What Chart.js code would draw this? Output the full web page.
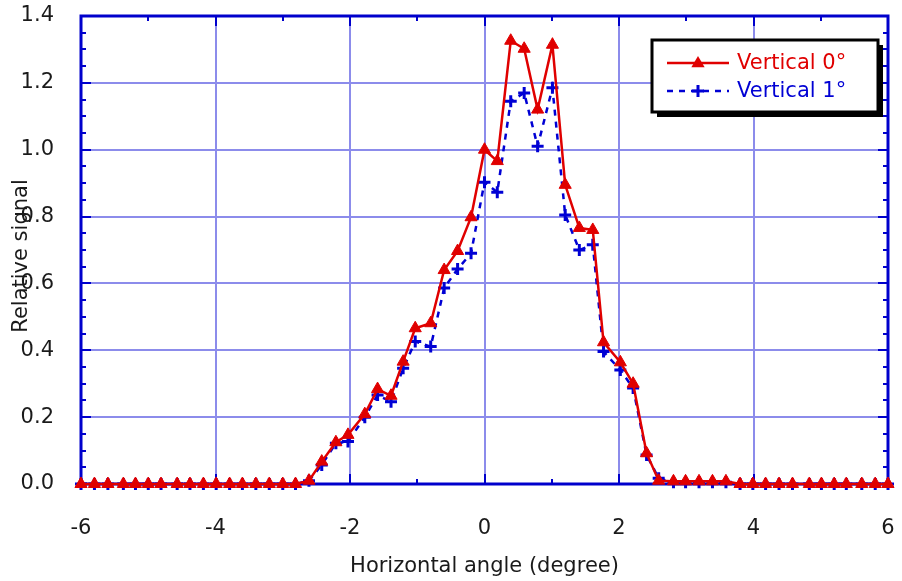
<!DOCTYPE html>
<html>
<head>
<meta charset="utf-8">
<script src="https://cdn.jsdelivr.net/npm/chart.js@4/dist/chart.umd.min.js"></script>
<style>
html,body{margin:0;padding:0;background:#fff;}
#wrap{width:902px;height:581px;}
</style>
</head>
<body>
<div id="wrap"><canvas id="c" width="902" height="581"></canvas></div>
<script>
// ---- data ----
const angles = [-6.0,-5.8,-5.6,-5.37,-5.19,-5.0,-4.81,-4.57,-4.38,-4.18,-3.99,-3.79,-3.6,-3.4,-3.2,-3.0,-2.81,-2.61,
  -2.42,-2.21,-2.03,-1.78,-1.59,-1.39,-1.21,-1.03,-0.8,-0.6,-0.4,-0.2,0.0,0.19,0.39,0.59,0.79,1.01,1.2,1.41,1.61,1.77,2.02,2.21,2.41,2.59,
  2.81,2.99,3.19,3.39,3.59,3.8,3.99,4.18,4.38,4.58,4.83,5.01,5.2,5.38,5.61,5.81,6.0];
const vertical0 = [0,0,0,0,0,0,0,0,0,0,0,0,0,0,0,0,0,0.01,
  0.067,0.125,0.147,0.209,0.284,0.264,0.366,0.466,0.481,0.64,0.697,0.798,1.0,0.966,1.326,1.302,1.12,1.314,0.895,0.766,0.76,0.424,0.364,0.30,0.092,0.01,
  0.008,0.008,0.008,0.008,0.008,0,0,0,0,0,0,0,0,0,0,0,0];
const vertical1 = [0,0,0,0,0,0,0,0,0,0,0,0,0,0,0,0,0,0.01,
  0.057,0.122,0.127,0.20,0.266,0.246,0.346,0.426,0.411,0.586,0.643,0.69,0.903,0.873,1.145,1.17,1.01,1.185,0.805,0.70,0.716,0.396,0.341,0.287,0.087,0.017,
  0.005,0.005,0.005,0.005,0.005,0,0,0,0,0,0,0,0,0,0,0,0];
const seriesLabels = ['Vertical 0°','Vertical 1°'];
const xTicks = [-6,-4,-2,0,2,4,6];
const yTicks = [0,0.2,0.4,0.6,0.8,1.0,1.2,1.4];

const RED = '#e00000';
const BLUE = '#0000d4';
const GRID = '#8c8ceb';
const FRAME = '#0000cc';
const FONT = '"DejaVu Sans", Verdana, sans-serif';
const FS = 21;

function pts(xs, ys){ return xs.map((x,i)=>({x:x,y:ys[i]})); }

const framePlugin = {
  id:'frame',
  beforeDatasetsDraw(chart){
    const ctx = chart.ctx, a = chart.chartArea;
    const xs = chart.scales.x, ys = chart.scales.y;
    ctx.save();
    ctx.strokeStyle = FRAME;
    ctx.lineWidth = 2;
    for (let v=-6; v<=6; v++){
      const px = Math.round(xs.getPixelForValue(v));
      const len = (v%2===0)?10:5;
      ctx.beginPath();
      ctx.moveTo(px, a.bottom); ctx.lineTo(px, a.bottom-len);
      ctx.moveTo(px, a.top); ctx.lineTo(px, a.top+len);
      ctx.stroke();
    }
    for (let k=0; k<=28; k++){
      const v = k*0.05;
      const py = Math.round(ys.getPixelForValue(v));
      const len = (k%4===0)?10:5;
      ctx.beginPath();
      ctx.moveTo(a.left, py); ctx.lineTo(a.left+len, py);
      ctx.moveTo(a.right, py); ctx.lineTo(a.right-len, py);
      ctx.stroke();
    }
    ctx.lineWidth = 3;
    ctx.strokeRect(a.left, a.top, a.right-a.left, a.bottom-a.top);
    ctx.restore();
  },
  afterDraw(chart){
    const ctx = chart.ctx;
    ctx.save();
    ctx.translate(22, 256);
    ctx.rotate(-Math.PI/2);
    ctx.fillStyle = '#1a1a1a';
    ctx.font = FS + 'px ' + FONT;
    ctx.textAlign = 'center';
    ctx.textBaseline = 'middle';
    ctx.fillText('Relative signal', 0, 0);
    ctx.restore();

    const bx=652, by=40, bw=226, bh=72;
    ctx.save();
    ctx.fillStyle = '#000';
    ctx.fillRect(bx+5, by+5, bw, bh);
    ctx.fillStyle = '#fff';
    ctx.fillRect(bx, by, bw, bh);
    ctx.lineWidth = 3;
    ctx.strokeStyle = '#000';
    ctx.strokeRect(bx, by, bw, bh);
    const ds = chart.data.datasets;
    const rows = [63, 91];
    ds.forEach((d,i)=>{
      const y = rows[i];
      ctx.strokeStyle = d.borderColor;
      ctx.lineWidth = 2.5;
      ctx.setLineDash(d.borderDash || []);
      ctx.beginPath(); ctx.moveTo(667,y); ctx.lineTo(729,y); ctx.stroke();
      ctx.setLineDash([]);
      const cx = 698;
      if (d.pointStyle === 'triangle'){
        const r = 7;
        ctx.fillStyle = d.pointBackgroundColor;
        ctx.beginPath();
        ctx.moveTo(cx, y-r); ctx.lineTo(cx+r*0.95, y+r*0.6); ctx.lineTo(cx-r*0.95, y+r*0.6); ctx.closePath();
        ctx.fill();
      } else {
        ctx.lineWidth = 3;
        ctx.beginPath();
        ctx.moveTo(cx-6,y); ctx.lineTo(cx+6,y);
        ctx.moveTo(cx,y-6); ctx.lineTo(cx,y+6);
        ctx.stroke();
      }
      ctx.fillStyle = d.borderColor;
      ctx.font = FS + 'px ' + FONT;
      ctx.textAlign = 'left';
      ctx.textBaseline = 'middle';
      ctx.fillText(d.label, 737, y+1);
    });
    ctx.restore();
  }
};

new Chart(document.getElementById('c'), {
  type:'line',
  data:{
    datasets:[
      {label:seriesLabels[0], data:pts(angles, vertical0), borderColor:RED, backgroundColor:RED,
       pointBackgroundColor:RED, pointBorderColor:RED, pointStyle:'triangle', pointRadius:7, pointBorderWidth:1,
       borderWidth:2.5, tension:0, clip:false},
      {label:seriesLabels[1], data:pts(angles, vertical1), borderColor:BLUE, backgroundColor:BLUE,
       pointBackgroundColor:BLUE, pointBorderColor:BLUE, pointStyle:'cross', pointRadius:6, pointBorderWidth:3,
       borderWidth:2.5, borderDash:[6,6], tension:0, clip:false}
    ]
  },
  options:{
    responsive:false, animation:false, devicePixelRatio:1,
    layout:{padding:{top:16,right:14,left:0,bottom:0}, autoPadding:false},
    plugins:{legend:{display:false}, tooltip:{enabled:false}},
    scales:{
      x:{type:'linear', min:-6, max:6,
        afterBuildTicks(s){ s.ticks = xTicks.map(v=>({value:v})); },
        afterFit(s){ s.height = 97; s.paddingLeft = 0; s.paddingRight = 0; },
        grid:{color:GRID, lineWidth:2, drawTicks:false},
        border:{display:false},
        ticks:{padding:32, color:'#1a1a1a', font:{family:FONT, size:FS}, maxRotation:0,
          callback:v=>String(v)},
        title:{display:true, text:'Horizontal angle (degree)', color:'#1a1a1a', font:{family:FONT, size:FS}, padding:{top:0,bottom:2}}
      },
      y:{type:'linear', min:0, max:1.4,
        afterBuildTicks(s){ s.ticks = yTicks.map(v=>({value:v})); },
        afterFit(s){ s.width = 81; s.paddingTop = 0; s.paddingBottom = 0; },
        grid:{color:GRID, lineWidth:2, drawTicks:false},
        border:{display:false},
        ticks:{padding:27, color:'#1a1a1a', font:{family:FONT, size:FS},
          callback:v=>Number(v).toFixed(1)}
      }
    }
  },
  plugins:[framePlugin]
});
</script>
</body>
</html>
